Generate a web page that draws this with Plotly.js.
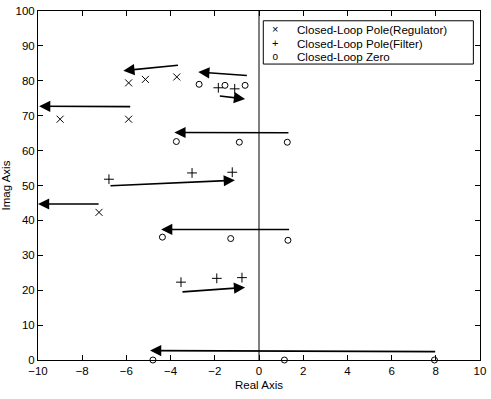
<!DOCTYPE html>
<html>
<head>
<meta charset="utf-8">
<script src="https://cdn.plot.ly/plotly-3.0.1.min.js"></script>
<style>html,body{margin:0;padding:0;background:#fff;}#chart{width:491px;height:399px;}</style>
</head>
<body>
<div id="chart"></div>
<script>
// Closed-loop poles (regulator) – marked x
const regX = [-9.0, -5.9, -5.9, -5.14, -3.72, -7.24];
const regY = [69.0, 69.0, 79.4, 80.4, 81.1, 42.3];
// Closed-loop poles (filter) – marked +
const filX = [-6.79, -3.03, -1.21, -1.84, -1.10, -3.53, -1.91, -0.77];
const filY = [51.8, 53.6, 53.8, 78.0, 77.7, 22.3, 23.4, 23.6];
// Closed-loop zeros – marked o
const zerX = [-2.71, -1.54, -0.63, -3.74, -0.89, 1.28, -4.37, -1.28, 1.31, -4.8, 1.15, 7.94];
const zerY = [79.0, 78.7, 78.7, 62.6, 62.4, 62.4, 35.2, 34.8, 34.3, 0.0, 0.0, 0.0];
// Arrows (tail -> head)
const arrTailX = [-5.76, -3.6, -0.48, -1.84, 1.40, -6.79, -7.19, 1.43, -3.53, 8.04];
const arrTailY = [72.6, 84.5, 81.5, 75.7, 65.1, 49.9, 44.7, 37.4, 19.5, 2.4];
const arrHeadX = [-9.95, -6.14, -2.75, -0.63, -3.83, -1.09, -10.0, -4.43, -0.63, -4.93];
const arrHeadY = [72.7, 82.9, 82.5, 74.8, 65.2, 51.5, 44.7, 37.4, 20.8, 2.7];
// Legend labels
const legendLabels = ["Closed-Loop Pole(Regulator)", "Closed-Loop Pole(Filter)", "Closed-Loop Zero"];
const legendSymbols = ["\u00d7", "+", "o"];

const FONT = "Liberation Sans, Arial, Helvetica, sans-serif";

const mk = (sym, size) => ({symbol: sym, size: size, color: "black", line: {color: "black", width: 1}});
const traces = [
  {x: regX, y: regY, mode: "markers", type: "scatter", name: legendLabels[0], marker: mk("x-thin-open", 7)},
  {x: filX, y: filY, mode: "markers", type: "scatter", name: legendLabels[1], marker: mk("cross-thin-open", 7)},
  {x: zerX, y: zerY, mode: "markers", type: "scatter", name: legendLabels[2], marker: mk("circle-open", 6), cliponaxis: false}
];

const annotations = [];
for (let i = 0; i < arrTailX.length; i++) {
  annotations.push({
    x: arrHeadX[i], y: arrHeadY[i], ax: arrTailX[i], ay: arrTailY[i],
    xref: "x", yref: "y", axref: "x", ayref: "y",
    text: "", showarrow: true, arrowhead: 2, arrowsize: 1.4, arrowwidth: 1.6, arrowcolor: "black"
  });
}
// Legend: one multi-line text block; base font sets the line pitch
const BASE = 10.4;
const labelText = legendLabels.map(s => '<span style="font-size:11.6px">' + s + '</span>').join("<br>");
const symSizes = [11, 11, 10];
const symText = legendSymbols.map((s, i) => '<span style="font-size:' + symSizes[i] + 'px">' + s + '</span>').join("<br>");
annotations.push({xref: "paper", yref: "paper", x: 0.5814, y: 0.909, text: labelText, showarrow: false,
  xanchor: "left", yanchor: "middle", align: "left", font: {family: FONT, size: BASE, color: "black"}});
annotations.push({xref: "paper", yref: "paper", x: 0.536, y: 0.909, text: symText, showarrow: false,
  xanchor: "center", yanchor: "middle", align: "center", font: {family: FONT, size: BASE, color: "black"}});
annotations.push({xref: "paper", yref: "paper", x: 0.5, y: -0.05, text: "Real Axis", showarrow: false,
  xanchor: "center", yanchor: "top", font: {family: FONT, size: 11.5, color: "black"}});

const layout = {
  width: 491, height: 399,
  margin: {l: 38, r: 11, t: 11, b: 39},
  paper_bgcolor: "white", plot_bgcolor: "white",
  showlegend: false,
  font: {family: FONT, size: 11, color: "black"},
  xaxis: {range: [-10, 10], dtick: 2, tick0: -10, showgrid: false, zeroline: false,
    showline: true, linecolor: "black", linewidth: 1, mirror: "ticks", ticks: "inside", ticklen: 5,
    tickcolor: "black", tickfont: {family: FONT, size: 11.5}, ticklabelstandoff: 0},
  yaxis: {range: [0, 100], dtick: 10, tick0: 0, showgrid: false, zeroline: false,
    showline: true, linecolor: "black", linewidth: 1, mirror: "ticks", ticks: "inside", ticklen: 5,
    tickcolor: "black", tickfont: {family: FONT, size: 11.5},
    title: {text: "Imag Axis", font: {family: FONT, size: 11.5}, standoff: 4}},
  shapes: [
    {type: "line", xref: "x", yref: "paper", x0: 0, x1: 0, y0: 0, y1: 1, line: {color: "black", width: 1}},
    {type: "rect", xref: "paper", yref: "paper", x0: 0.5097, x1: 0.985, y0: 0.848, y1: 0.972,
      line: {color: "black", width: 1}, fillcolor: "white", layer: "above"}
  ],
  annotations: annotations
};

Plotly.newPlot("chart", traces, layout, {displayModeBar: false, staticPlot: true});
</script>
</body>
</html>
